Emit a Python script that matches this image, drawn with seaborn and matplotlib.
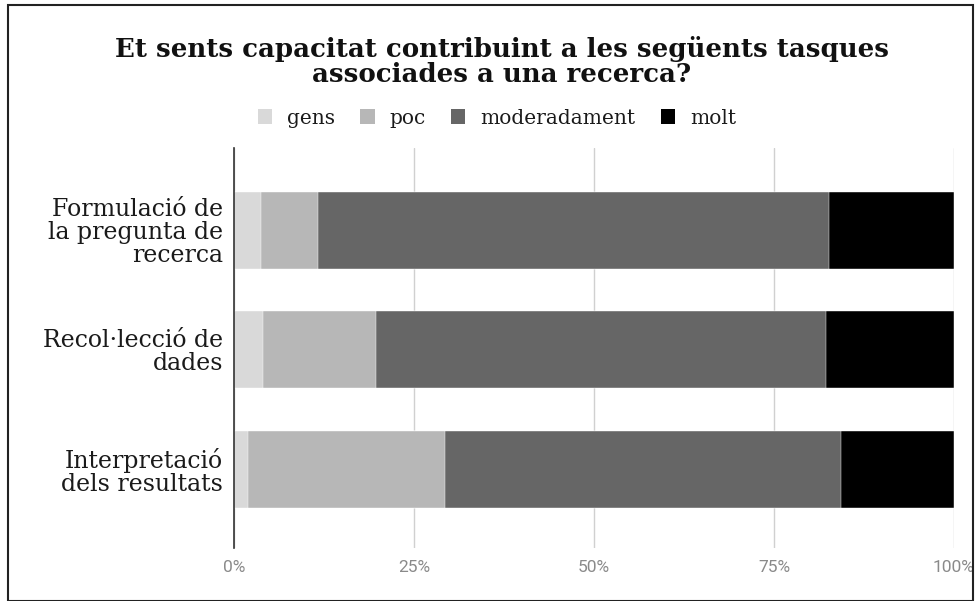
import matplotlib
matplotlib.use("Agg")
import matplotlib.pyplot as plt
import seaborn as sns
import numpy as np
import pandas as pd
from matplotlib.patches import Patch, Rectangle

categories = ["Formulació de\nla pregunta de\nrecerca", "Recol·lecció de\ndades", "Interpretació\ndels resultats"]
series = ["gens", "poc", "moderadament", "molt"]
gens = [3.8, 4.0, 1.9]
poc = [7.8, 15.7, 27.4]
moderadament = [71.0, 62.5, 55.0]
molt = [17.4, 17.8, 15.7]
colors = ["#d9d9d9", "#b7b7b7", "#666666", "#000000"]
ticks = [0, 25, 50, 75, 100]
tick_labels = ["0%", "25%", "50%", "75%", "100%"]
title = "Et sents capacitat contribuint a les següents tasques\nassociades a una recerca?"

sns.set_theme(style="white")
plt.rcParams['font.family'] = ['DejaVu Serif', 'DejaVu Sans']

vals = np.array([gens, poc, moderadament, molt])
cum = np.cumsum(vals, axis=0)

fig = plt.figure(figsize=(9.76, 6.01), dpi=100)
ax = fig.add_axes([234/976, 1-548/601, 720/976, 400/601])

for i in range(len(series) - 1, -1, -1):
    df = pd.DataFrame({"cat": categories, "val": cum[i]})
    sns.barplot(data=df, x="val", y="cat", orient="h", color=colors[i],
                width=0.645, ax=ax, saturation=1, edgecolor="#ffffff", linewidth=0.3)

ax.set_xlim(0, 100)
ax.set_ylim(2.66, -0.69)
ax.set_xticks(ticks)
ax.set_xticklabels(tick_labels, family=["Roboto", "DejaVu Sans"], fontsize=12.5, color="#8a8a8a")
ax.tick_params(axis="x", length=0, pad=9)
ax.tick_params(axis="y", length=0, pad=8)
for lab in ax.get_yticklabels():
    lab.set_horizontalalignment("right")
    lab.set_multialignment("right")
    lab.set_fontsize(17)
    lab.set_linespacing(1.0)
    lab.set_color("#1a1a1a")
ax.set_xlabel("")
ax.set_ylabel("")
ax.xaxis.grid(True, color="#d0d0d0", linewidth=1)
ax.set_axisbelow(True)
for s in ["top", "right", "bottom"]:
    ax.spines[s].set_visible(False)
ax.spines["left"].set_color("#333333")
ax.spines["left"].set_linewidth(1.2)

fig.text(502/976, 1-61.5/601, title, ha="center", va="center", fontsize=18.7,
         fontweight="bold", linespacing=0.95, color="#111111")

handles = [Patch(facecolor=c, edgecolor="none") for c in colors]
leg = fig.legend(handles, series, loc="center", bbox_to_anchor=(497/976, 1-118/601),
                 ncol=4, frameon=False, fontsize=14.5, handlelength=0.7, handleheight=0.7,
                 handletextpad=0.75, columnspacing=1.25)
for t in leg.get_texts():
    t.set_color("#1a1a1a")

fig.patches.append(Rectangle((8/976, 0), 965/976, 1-5/601, transform=fig.transFigure,
                             fill=False, edgecolor="#222222", linewidth=1.5))

fig.savefig("out.png", dpi=100)
